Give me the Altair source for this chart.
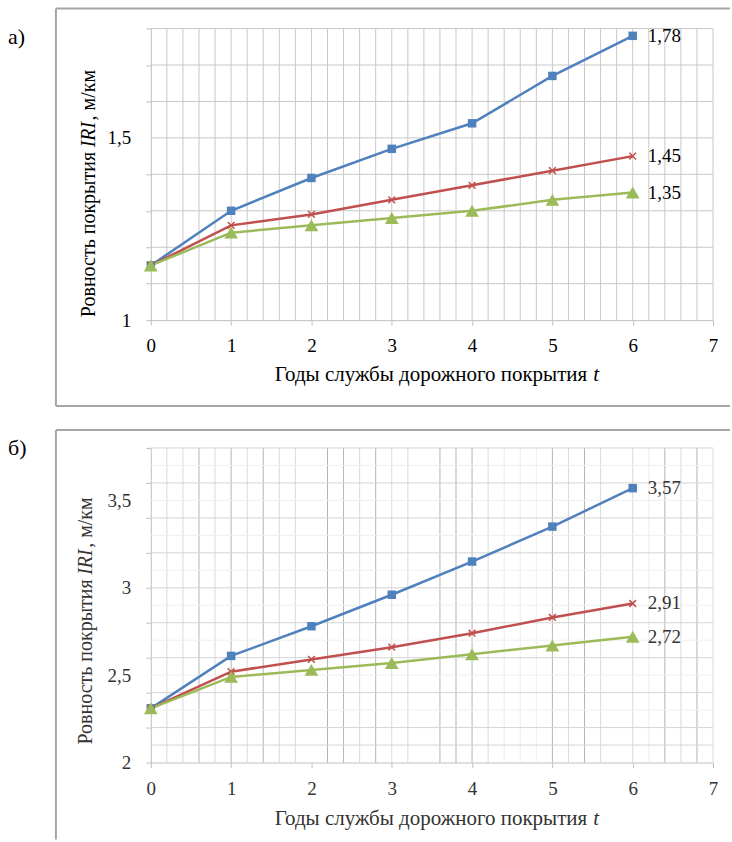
import altair as alt
import pandas as pd

# ---------------- data ----------------
years = [0, 1, 2, 3, 4, 5, 6]
x_axis_values = [0, 1, 2, 3, 4, 5, 6, 7]
series_names = ["ряд 1", "ряд 2", "ряд 3"]
colors = ["#4F81BD", "#C0504D", "#9BBB59"]

# panel а)
a_blue = [1.15, 1.30, 1.39, 1.47, 1.54, 1.67, 1.78]
a_red = [1.15, 1.26, 1.29, 1.33, 1.37, 1.41, 1.45]
a_green = [1.15, 1.24, 1.26, 1.28, 1.30, 1.33, 1.35]
a_y_domain = [1.0, 1.8]
a_y_ticks = [1.0, 1.1, 1.2, 1.3, 1.4, 1.5, 1.6, 1.7, 1.8]
a_y_labels = [1.0, 1.5]

# panel б)
b_blue = [2.31, 2.61, 2.78, 2.96, 3.15, 3.35, 3.57]
b_red = [2.31, 2.52, 2.59, 2.66, 2.74, 2.83, 2.91]
b_green = [2.31, 2.49, 2.53, 2.57, 2.62, 2.67, 2.72]
b_y_domain = [2.0, 3.8]
b_y_ticks = [2.0, 2.2, 2.4, 2.5, 2.6, 2.8, 3.0, 3.2, 3.4, 3.5, 3.6, 3.8]
b_y_labels = [2.0, 2.5, 3.0, 3.5]

x_title = "Годы службы дорожного покрытия"
x_title_var = "t"
y_title_1 = "Ровность покрытия "
y_title_var = "IRI"
y_title_2 = ", м/км"

# grid positions
a_vgrid = [round(0.2 * i, 1) for i in range(1, 36)]
a_hgrid = [round(1.0 + 0.1 * i, 1) for i in range(1, 9)]

b_vgrid_dark = [0.6, 1.0, 1.4, 2.2, 2.4, 2.8, 3.6, 3.8, 4.0, 5.0, 5.4, 6.4, 6.8]
b_vgrid_light = [0.2, 0.4, 0.8, 1.2, 1.6, 1.8, 2.6, 3.0, 3.2, 4.2, 5.2, 5.6, 6.0, 6.6, 7.0]
b_vgrid_faint = [4.4, 4.6, 4.8, 6.2]
b_hgrid_major = [2.1, 2.2, 2.4, 2.6, 2.8, 3.0, 3.2, 3.4, 3.6, 3.8]
b_hgrid_minor = [2.3, 2.5, 2.7, 2.9, 3.1, 3.3, 3.5, 3.7]

FONT = "Times New Roman, Liberation Serif, DejaVu Serif, serif"
AXIS_GREY = "#bfbfbf"
BOX_GREY = "#a6a6a6"


def one():
    return alt.Chart(pd.DataFrame({"k": [0]}))


def text(x, y, s, size=19, color="black", align="left", style="normal", angle=0, baseline="alphabetic"):
    return one().mark_text(
        font=FONT, fontSize=size, color=color, align=align, fontStyle=style,
        angle=angle, baseline=baseline
    ).encode(x=alt.value(x), y=alt.value(y), text=alt.value(s))


def hrule(x1, x2, y, color=BOX_GREY, w=2):
    return one().mark_rule(color=color, strokeWidth=w).encode(
        x=alt.value(x1), x2=alt.value(x2), y=alt.value(y))


def vrule(x, y1, y2, color=BOX_GREY, w=2):
    return one().mark_rule(color=color, strokeWidth=w).encode(
        x=alt.value(x), y=alt.value(y1), y2=alt.value(y2))


def panel(blue, red, green, ydom, yticks, ylabels, vgrid_df, hgrid_df, H, tcolor,
          xlabpad, box_layers, tx):
    W = 563
    xs = alt.Scale(domain=[0, 7], nice=False, zero=False)
    ys = alt.Scale(domain=ydom, nice=False, zero=False)

    rows = []
    for name, vals in zip(series_names, [blue, red, green]):
        for t, v in zip(years, vals):
            rows.append({"s": name, "t": t, "v": v})
    df = pd.DataFrame(rows)
    last = df[df["t"] == years[-1]].copy()
    last["lab"] = [f"{v:.2f}".replace(".", ",") for v in last["v"]]

    lab_list = ",".join(str(v) for v in ylabels)
    label_expr = (f"indexof([{lab_list}], datum.value) >= 0 ? "
                  "replace(format(datum.value, '~g'), '.', ',') : ''")

    hide_ticks = [v for v in yticks if v in ylabels and round(v * 10) % 2 == 1]
    if hide_ticks:
        test = " || ".join(f"datum.value == {v}" for v in hide_ticks)
        tick_color = {"condition": {"test": test, "value": "transparent"}, "value": AXIS_GREY}
    else:
        tick_color = AXIS_GREY

    xaxis = alt.Axis(
        values=x_axis_values, title=None, grid=False, domainColor=AXIS_GREY,
        tickColor=AXIS_GREY, tickSize=5, labelFont=FONT, labelFontSize=19,
        labelColor=tcolor, labelPadding=xlabpad, labelFlush=False, labelOverlap=False)
    yaxis = alt.Axis(
        values=yticks, labelExpr=label_expr, title=None, grid=False,
        domainColor=AXIS_GREY, tickColor=tick_color, tickSize=5, labelFont=FONT,
        labelFontSize=19, labelColor=tcolor, labelPadding=15, labelOverlap=False)

    X = lambda f: alt.X(f, scale=xs, axis=xaxis)
    Y = lambda f: alt.Y(f, scale=ys, axis=yaxis)

    vg = alt.Chart(vgrid_df).mark_rule(strokeWidth=1).encode(
        x=X("gx:Q"), color=alt.Color("c:N", scale=None, legend=None))
    hg = alt.Chart(hgrid_df).mark_rule(strokeWidth=1).encode(
        y=Y("gy:Q"), color=alt.Color("c:N", scale=None, legend=None))

    lines = alt.Chart(df).mark_line(strokeWidth=2.5).encode(
        x=X("t:Q"), y=Y("v:Q"),
        color=alt.Color("s:N", scale=alt.Scale(domain=series_names, range=colors), legend=None))

    def pts(name, **kw):
        return alt.Chart(df[df["s"] == name]).mark_point(**kw).encode(x=X("t:Q"), y=Y("v:Q"))

    p1 = pts(series_names[0], shape="square", filled=True, size=72, color=colors[0], opacity=1)
    p2 = pts(series_names[1], shape="M-1,-1L1,1M-1,1L1,-1", filled=False, size=45,
             color=colors[1], strokeWidth=1.5, opacity=1)
    p3 = pts(series_names[2], shape="triangle-up", filled=True, size=190, color=colors[2], opacity=1)

    labels = alt.Chart(last).mark_text(
        font=FONT, fontSize=19, color=tcolor, align="left", baseline="middle", dx=15
    ).encode(x=X("t:Q"), y=Y("v:Q"), text="lab:N")

    layers = [vg, hg, lines, p1, p2, p3, labels] + box_layers + tx
    return alt.layer(*layers).properties(width=W, height=H)


# ---- grid tables ----
a_vg = pd.DataFrame({"gx": a_vgrid, "c": ["#c8c8c8"] * len(a_vgrid)})
a_hg = pd.DataFrame({"gy": a_hgrid, "c": ["#c8c8c8"] * len(a_hgrid)})
b_vg = pd.DataFrame({
    "gx": b_vgrid_faint + b_vgrid_light + b_vgrid_dark,
    "c": ["#ededed"] * len(b_vgrid_faint) + ["#dadada"] * len(b_vgrid_light) + ["#b4b4b4"] * len(b_vgrid_dark)})
b_hg = pd.DataFrame({
    "gy": b_hgrid_minor + b_hgrid_major,
    "c": ["#efefef"] * len(b_hgrid_minor) + ["#d4d4d4"] * len(b_hgrid_major)})

# ---- panel а ----
a_box = [hrule(-95, 580, -20), hrule(-95, 580, 378), vrule(-95, -20, 378)]
a_tx = [
    text(-143, 15, "а)", size=22),
    text(437, 353, x_title, size=21, align="right"),
    text(443, 353, x_title_var, size=21, style="italic"),
    text(-56, 289, y_title_1, size=20, angle=270),
    text(-56, 119, y_title_var, size=20, angle=270, style="italic"),
    text(-56, 92, y_title_2, size=20, angle=270),
]
pa = panel(a_blue, a_red, a_green, a_y_domain, a_y_ticks, a_y_labels, a_vg, a_hg, 292,
           "black", 11, a_box, a_tx)

# ---- panel б ----
b_box = [hrule(-95, 580, -18), vrule(-95, -18, 392)]
b_tx = [
    text(-143, 7, "б)", size=22),
    text(437, 378, x_title, size=21, align="right", color="#333333"),
    text(443, 378, x_title_var, size=21, style="italic", color="#333333"),
    text(-59, 297, y_title_1, size=20, angle=270, color="#333333"),
    text(-59, 127, y_title_var, size=20, angle=270, style="italic", color="#333333"),
    text(-59, 100, y_title_2, size=20, angle=270, color="#333333"),
]
pb = panel(b_blue, b_red, b_green, b_y_domain, b_y_ticks, b_y_labels, b_vg, b_hg, 315,
           "#333333", 12, b_box, b_tx)

chart = alt.vconcat(pa, pb, spacing=20).properties(
    padding={"left": 7, "top": 6, "right": 0, "bottom": 0},
    background="white",
).configure_view(stroke="transparent")

chart.save("out.html", embed_options={"renderer": "svg", "actions": False})
